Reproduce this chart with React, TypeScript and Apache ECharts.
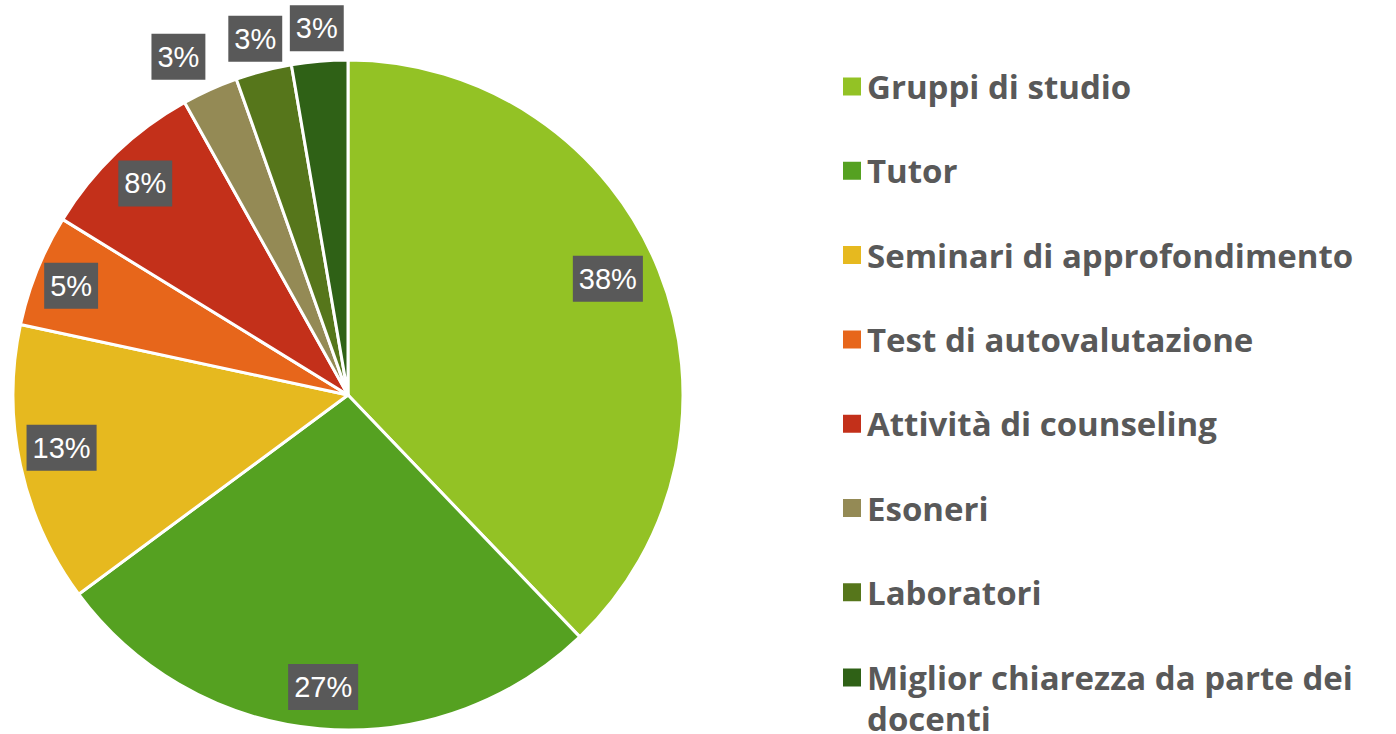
import React, { useEffect, useRef } from "react";
import * as echarts from "echarts";

const categories = [
  "Gruppi di studio",
  "Tutor",
  "Seminari di approfondimento",
  "Test di autovalutazione",
  "Attività di counseling",
  "Esoneri",
  "Laboratori",
  "Miglior chiarezza da parte dei docenti",
];
// number of responses per category (shown as rounded percentages: 38, 27, 13, 5, 8, 3, 3, 3)
const responses = [14, 10, 5, 2, 3, 1, 1, 1];
const colors = ["#93C225", "#55A121", "#E6B91F", "#E7661B", "#C3301A", "#948A55", "#56761B", "#2F6116"];
// labels placed outside the pie (small slices)
const outsideLabel = [false, false, false, false, false, true, true, true];

const CX = 348;
const CY = 395;
const R = 335;

export default function App() {
  const ref = useRef<HTMLDivElement>(null);
  useEffect(() => {
    if (!ref.current) return;
    const chart = echarts.init(ref.current, null, { renderer: "svg" });
    const labelStyle = {
      formatter: "{d}%",
      color: "#ffffff",
      backgroundColor: "#595959",
      fontFamily: "'Liberation Sans', sans-serif",
      fontSize: 29,
      lineHeight: 34,
      padding: [6, 6, 6, 6],
      position: "inside",
    };
    const lastName = categories[categories.length - 1];
    const legendText = {
      color: "#595959",
      fontFamily: "'Open Sans', sans-serif",
      fontWeight: "bold",
      fontSize: 33,
      lineHeight: 41,
    };
    const insideShift: Record<number, { dx: number; dy: number }> = {
      0: { dx: -12, dy: -7 },
      2: { dx: 0, dy: -9 },
      3: { dx: -5, dy: 0 },
    };
    const outsideShift: Record<number, { dx: number; dy: number }> = {
      5: { dx: -18, dy: -3 },
    };
    chart.setOption({
      animation: false,
      legend: [
        {
          orient: "vertical",
          left: 841,
          top: 66,
          padding: 0,
          itemWidth: 20,
          itemHeight: 20,
          itemGap: 43.3,
          icon: "rect",
          selectedMode: false,
          data: categories.slice(0, categories.length - 1),
          textStyle: legendText,
        },
        {
          orient: "vertical",
          left: 841,
          top: 616,
          padding: 0,
          itemWidth: 20,
          itemHeight: 20,
          icon: "rect",
          selectedMode: false,
          data: [lastName],
          formatter: () => "\nMiglior chiarezza da parte dei\ndocenti",
          textStyle: legendText,
        },
      ],
      series: [
        {
          type: "pie",
          center: [CX, CY],
          radius: [0, R],
          startAngle: 90,
          clockwise: true,
          silent: true,
          label: { show: false },
          labelLine: { show: false },
          emphasis: { disabled: true },
          itemStyle: { borderColor: "#ffffff", borderWidth: 3 },
          data: categories.map((name, i) => ({
            name,
            value: responses[i],
            itemStyle: { color: colors[i] },
          })),
        },
        {
          type: "pie",
          center: [CX, CY],
          radius: [0, 2 * 290],
          startAngle: 90,
          clockwise: true,
          silent: true,
          percentPrecision: 0,
          emphasis: { disabled: true },
          labelLine: { show: false },
          itemStyle: { color: "rgba(0,0,0,0)", borderWidth: 0 },
          label: labelStyle,
          labelLayout: (p: any) => insideShift[p.dataIndex] || {},
          data: categories.map((name, i) => ({
            name,
            value: responses[i],
            label: { show: !outsideLabel[i] },
          })),
        },
        {
          type: "pie",
          center: [CX, CY],
          radius: [0, 2 * 365],
          startAngle: 90,
          clockwise: true,
          silent: true,
          percentPrecision: 0,
          emphasis: { disabled: true },
          labelLine: { show: false },
          itemStyle: { color: "rgba(0,0,0,0)", borderWidth: 0 },
          label: labelStyle,
          labelLayout: (p: any) => outsideShift[p.dataIndex] || {},
          data: categories.map((name, i) => ({
            name,
            value: responses[i],
            label: { show: outsideLabel[i] },
          })),
        },
      ],
    });
    return () => chart.dispose();
  }, []);
  return (
    <div
      ref={ref}
      style={{ position: "fixed", left: 0, top: 0, width: 1396, height: 734, background: "#ffffff" }}
    />
  );
}
